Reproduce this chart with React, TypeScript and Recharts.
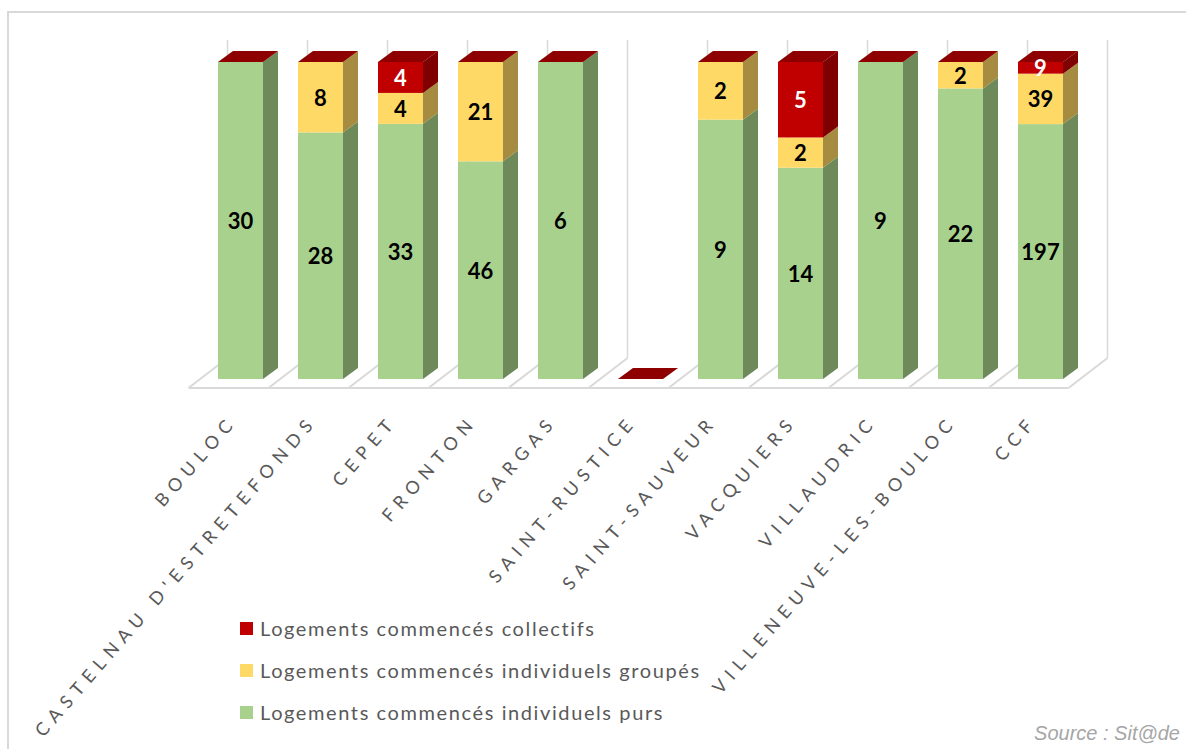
import React from 'react';
import { BarChart, Bar, XAxis, YAxis, Legend, LabelList } from 'recharts';

const communes = [
  'BOULOC',
  "CASTELNAU D'ESTRETEFONDS",
  'CEPET',
  'FRONTON',
  'GARGAS',
  'SAINT-RUSTICE',
  'SAINT-SAUVEUR',
  'VACQUIERS',
  'VILLAUDRIC',
  'VILLENEUVE-LES-BOULOC',
  'CCF',
];
const individuelsPurs = [30, 28, 33, 46, 6, 0, 9, 14, 9, 22, 197];
const individuelsGroupes = [0, 8, 4, 21, 0, 0, 2, 2, 0, 2, 39];
const collectifs = [0, 0, 4, 0, 0, 0, 0, 5, 0, 0, 9];

const nameCollectifs = 'Logements commencés collectifs';
const nameGroupes = 'Logements commencés individuels groupés';
const namePurs = 'Logements commencés individuels purs';

const data = communes.map((c, i) => ({
  commune: c,
  purs: individuelsPurs[i],
  groupes: individuelsGroupes[i],
  collectifs: collectifs[i],
}));

const W = 1186;
const H = 749;
const M = { top: 62, left: 200, right: 106, bottom: 340 };
const BAND = (W - M.left - M.right) / communes.length;
const DX = 15;
const DY = 11;
const GRID = '#d9d9d9';

const COLORS = {
  purs: { front: '#a9d18e', side: '#6e8a5a' },
  groupes: { front: '#ffd966', side: '#a68c40' },
  collectifs: { front: '#c00000', side: '#7f0000', top: '#8e0000' },
};

const makeShape = (key: 'purs' | 'groupes' | 'collectifs') => (props: any) => {
  const { x, y, width, height } = props;
  const c: any = COLORS[key];
  const h = Math.max(0, height || 0);
  return (
    <g>
      {h > 0 && <rect x={x} y={y} width={width} height={h} fill={c.front} />}
      {h > 0 && (
        <polygon
          points={`${x + width},${y} ${x + width + DX},${y - DY} ${x + width + DX},${y + h - DY} ${x + width},${y + h}`}
          fill={c.side}
        />
      )}
      {key === 'collectifs' && (
        <polygon
          points={`${x},${y} ${x + DX},${y - DY} ${x + width + DX},${y - DY} ${x + width},${y}`}
          fill={c.top}
        />
      )}
    </g>
  );
};

const FloorAndWall = (props: any) => {
  const { x, y, width, height, index } = props;
  const cx = x + width / 2;
  const bottom = y + height;
  const b0 = cx - BAND / 2;
  const lines = [b0];
  if (index === communes.length - 1) lines.push(b0 + BAND);
  return (
    <g>
      <line x1={b0 - 12} y1={bottom + 9} x2={b0 + BAND - 12} y2={bottom + 9} stroke={GRID} strokeWidth={2} />
      {lines.map((bx, k) => (
        <g key={k}>
          <line x1={bx - 12} y1={bottom + 9} x2={bx + 27} y2={bottom - 21} stroke={GRID} strokeWidth={2} />
          <line x1={bx + 27} y1={bottom - 21} x2={bx + 27} y2={y - 22} stroke={GRID} strokeWidth={1.5} />
        </g>
      ))}
    </g>
  );
};

const makeLabel = (color: string) => (props: any) => {
  const { x, y, width, height, value } = props;
  if (!value) return null;
  return (
    <text
      x={x + width / 2}
      y={y + height / 2}
      textAnchor="middle"
      dominantBaseline="central"
      fill={color}
      fontFamily="Lato, 'Open Sans', sans-serif"
      fontWeight={700}
      fontSize={22}
    >
      {value}
    </text>
  );
};

const CommuneTick = (props: any) => {
  const { x, y, payload } = props;
  const ax = x - 2;
  const ay = y + 43;
  return (
    <text
      x={ax}
      y={ay}
      textAnchor="end"
      transform={`rotate(-49, ${ax}, ${ay})`}
      fill="#595959"
      fontFamily="Lato, 'Open Sans', sans-serif"
      fontSize={18}
      letterSpacing={6.6}
    >
      {payload.value}
    </text>
  );
};

const legendItems = [
  { name: nameCollectifs, color: COLORS.collectifs.front },
  { name: nameGroupes, color: COLORS.groupes.front },
  { name: namePurs, color: COLORS.purs.front },
];

const LegendContent = () => (
  <div style={{ fontFamily: "Lato, 'Open Sans', sans-serif", fontSize: 20, color: '#595959', letterSpacing: 1.6 }}>
    {legendItems.map((it) => (
      <div key={it.name} style={{ height: 42, display: 'flex', alignItems: 'center' }}>
        <span style={{ display: 'inline-block', width: 13, height: 13, background: it.color, marginRight: 7 }} />
        <span style={{ whiteSpace: 'nowrap' }}>{it.name}</span>
      </div>
    ))}
  </div>
);

export default function App() {
  return (
    <div style={{ position: 'absolute', left: 0, top: 0, width: W, height: H, overflow: 'hidden', background: '#fff' }}>
      <div
        style={{
          position: 'absolute',
          left: 7,
          top: 11,
          width: 1300,
          height: 900,
          border: `2px solid ${GRID}`,
        }}
      />
      <div style={{ position: 'absolute', left: 0, top: 0 }}>
        <BarChart width={W} height={H} data={data} margin={M} stackOffset="expand" barSize={45}>
          <XAxis
            dataKey="commune"
            axisLine={false}
            tickLine={false}
            tickSize={0}
            tickMargin={0}
            height={30}
            interval={0}
            tick={<CommuneTick />}
          />
          <YAxis hide domain={[0, 1]} />
          <Legend
            layout="vertical"
            align="center"
            verticalAlign="middle"
            wrapperStyle={{ position: 'absolute', left: 240, top: 607, width: 600 }}
            content={<LegendContent />}
          />
          <Bar
            dataKey="purs"
            name={namePurs}
            stackId="a"
            fill={COLORS.purs.front}
            isAnimationActive={false}
            shape={makeShape('purs')}
            background={FloorAndWall}
          >
            <LabelList dataKey="purs" content={makeLabel('#000')} />
          </Bar>
          <Bar
            dataKey="groupes"
            name={nameGroupes}
            stackId="a"
            fill={COLORS.groupes.front}
            isAnimationActive={false}
            shape={makeShape('groupes')}
          >
            <LabelList dataKey="groupes" content={makeLabel('#000')} />
          </Bar>
          <Bar
            dataKey="collectifs"
            name={nameCollectifs}
            stackId="a"
            fill={COLORS.collectifs.front}
            isAnimationActive={false}
            shape={makeShape('collectifs')}
          >
            <LabelList dataKey="collectifs" content={makeLabel('#fff')} />
          </Bar>
        </BarChart>
      </div>
      <div
        style={{
          position: 'absolute',
          right: 6,
          top: 722,
          fontFamily: "'Liberation Sans', Arial, sans-serif",
          fontStyle: 'italic',
          fontSize: 20,
          color: '#a6a6a6',
        }}
      >
        Source : Sit@de
      </div>
    </div>
  );
}
